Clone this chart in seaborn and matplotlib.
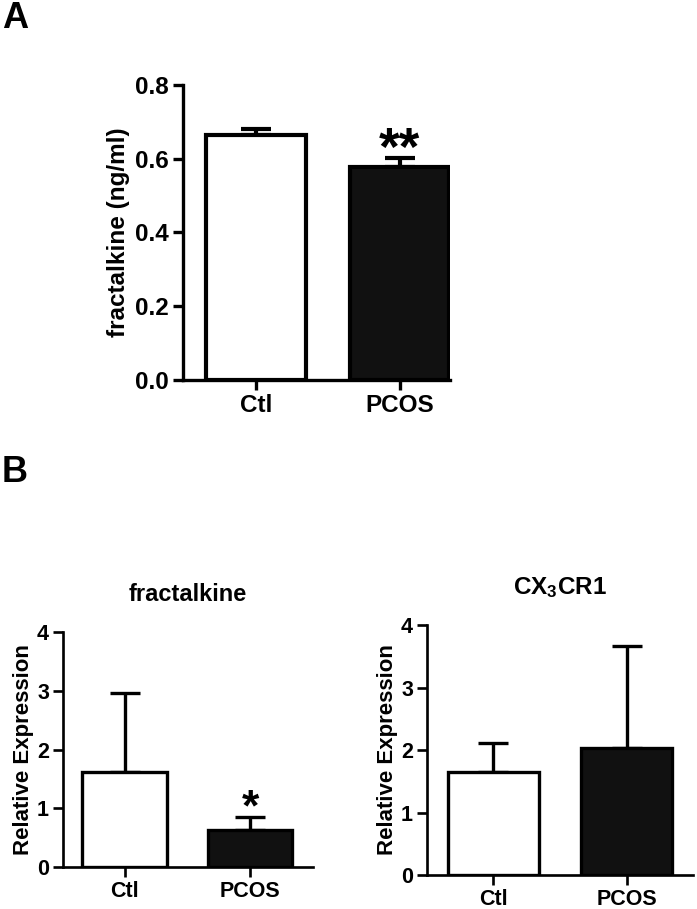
import numpy as np
import pandas as pd
import seaborn as sns
import matplotlib.pyplot as plt

# values (mean, upper SEM)
groups = ['Ctl', 'PCOS']
serum_mean = [0.664, 0.578]
serum_err = [0.017, 0.024]

fkn_mean = [1.62, 0.63]
fkn_err = [1.34, 0.22]

cx3cr1_mean = [1.65, 2.03]
cx3cr1_err = [0.46, 1.63]

bar_colors = ['white', '#111111']

sns.set_style('ticks')
plt.rcParams['font.family'] = ['Liberation Sans', 'DejaVu Sans']
plt.rcParams['font.weight'] = 'bold'
plt.rcParams['mathtext.fontset'] = 'custom'
plt.rcParams['mathtext.rm'] = 'Liberation Sans:bold'
plt.rcParams['mathtext.it'] = 'Liberation Sans:bold'
plt.rcParams['mathtext.bf'] = 'Liberation Sans:bold'
for k in ['text.color', 'axes.labelcolor', 'xtick.color', 'ytick.color', 'axes.edgecolor']:
    plt.rcParams[k] = 'black'


def bar_panel(ax, means, errs, ylim, yticks, ylabel, fmt, lw, fs_tick, fs_lab,
              xlim, width, stars=None, star_y=None, star_fs=20, title=None,
              title_fs=17, labelpad=4):
    df = pd.DataFrame({'group': groups, 'value': means})
    sns.barplot(data=df, x='group', y='value', hue='group', palette=bar_colors,
                edgecolor='black', linewidth=lw, width=width, legend=False,
                errorbar=None, ax=ax, zorder=2)
    ax.errorbar(x=[0, 1], y=means, yerr=[[0, 0], errs], fmt='none',
                ecolor='black', elinewidth=lw, capsize=width * 16,
                capthick=lw, zorder=1)
    ax.set_ylim(*ylim)
    ax.set_xlim(*xlim)
    ax.set_yticks(yticks)
    ax.set_yticklabels([fmt.format(t) for t in yticks], fontsize=fs_tick, fontweight='bold')
    ax.set_xticks([0, 1])
    ax.set_xticklabels(groups, fontsize=fs_tick, fontweight='bold')
    ax.set_xlabel('')
    ax.set_ylabel(ylabel, fontsize=fs_lab, fontweight='bold', labelpad=labelpad)
    sns.despine(ax=ax)
    for s in ['left', 'bottom']:
        ax.spines[s].set_linewidth(lw * 0.8)
    ax.tick_params(width=lw * 0.8, length=7, pad=3)
    if stars:
        ax.text(1, star_y, stars, ha='center', va='baseline', fontsize=star_fs,
                fontweight='bold', zorder=5)
    if title:
        ax.set_title(title, fontsize=title_fs, fontweight='bold', pad=22)


fig = plt.figure(figsize=(6.97, 9.09), dpi=100)

axA = fig.add_axes([0.2626, 0.582, 0.383, 0.3245])
bar_panel(axA, serum_mean, serum_err, (0, 0.8), [0.0, 0.2, 0.4, 0.6, 0.8],
          'fractalkine (ng/ml)', '{:.1f}', 3.0, 17.5, 17.5, (-0.507, 1.35), 0.69,
          stars='**', star_y=0.583, star_fs=38)

axB1 = fig.add_axes([0.0904, 0.0462, 0.3587, 0.2585])
bar_panel(axB1, fkn_mean, fkn_err, (0, 4), [0, 1, 2, 3, 4],
          'Relative Expression', '{:d}', 2.4, 15.5, 16, (-0.49, 1.5), 0.67,
          stars='*', star_y=0.79, star_fs=32, title='fractalkine', labelpad=2)

axB2 = fig.add_axes([0.6126, 0.0374, 0.3817, 0.275])
bar_panel(axB2, cx3cr1_mean, cx3cr1_err, (0, 4), [0, 1, 2, 3, 4],
          'Relative Expression', '{:d}', 2.4, 15.5, 16, (-0.5, 1.5), 0.69,
          title='CX$_3$CR1', title_fs=17.5, labelpad=2)

fig.text(0.003, 0.999, 'A', fontsize=26, fontweight='bold', va='top', ha='left')
fig.text(0.003, 0.499, 'B', fontsize=26, fontweight='bold', va='top', ha='left')

fig.savefig('out.png', dpi=100)
